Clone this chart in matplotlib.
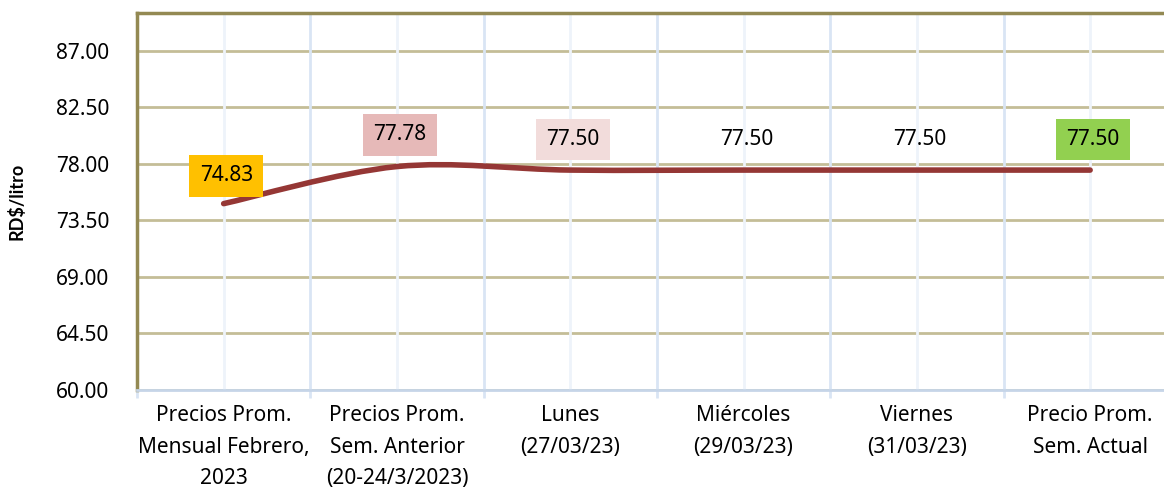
import numpy as np
import matplotlib
matplotlib.use("Agg")
import matplotlib.pyplot as plt
from matplotlib.path import Path
from matplotlib.patches import PathPatch

plt.rcParams['font.family'] = ['Noto Sans', 'DejaVu Sans']

# datos
categorias = ["Precios Prom.\nMensual Febrero,\n2023",
              "Precios Prom.\nSem. Anterior\n(20-24/3/2023)",
              "Lunes\n(27/03/23)",
              "Miércoles\n(29/03/23)",
              "Viernes\n(31/03/23)",
              "Precio Prom.\nSem. Actual"]
precios = [74.83, 77.78, 77.50, 77.50, 77.50, 77.50]
yticks = [60.00, 64.50, 69.00, 73.50, 78.00, 82.50, 87.00]

# colores de las etiquetas (None = sin fondo)
colores_etiqueta = ['#FFC000', '#E6B9B8', '#F2DCDB', None, None, '#92D050']

fig = plt.figure(figsize=(11.64, 4.91), dpi=100)
ax = fig.add_axes([137/1164, 1-390/491, 1-137/1164, (390-13)/491])

n = len(precios)
x = np.arange(n)

# rejilla
for yv in yticks:
    ax.axhline(yv, color='#c4bd97', lw=2, zorder=1)
for xv in x:
    ax.axvline(xv, color='#eef3fa', lw=2, zorder=1)
for xv in np.arange(n) + 0.5:
    ax.axvline(xv, color='#d9e5f4', lw=2, zorder=1)

# curva suavizada (estilo Excel, bezier por Catmull-Rom)
pts = np.column_stack([x, precios])
ext = np.vstack([pts[0], pts, pts[-1]])
verts = [tuple(pts[0])]
codes = [Path.MOVETO]
for i in range(n-1):
    p0, p1, p2, p3 = ext[i], ext[i+1], ext[i+2], ext[i+3]
    c1 = p1 + (p2 - p0) / 6
    c2 = p2 - (p3 - p1) / 6
    verts += [tuple(c1), tuple(c2), tuple(p2)]
    codes += [Path.CURVE4] * 3
curva = PathPatch(Path(verts, codes), facecolor='none', edgecolor='#953735',
                  lw=4, capstyle='round', joinstyle='round', zorder=3)
ax.add_patch(curva)

# etiquetas
offsets = [20, 23, 22, 22, 22, 22]
for xi, v, c, off in zip(x, precios, colores_etiqueta, offsets):
    kw = {}
    if c is not None:
        kw['bbox'] = dict(boxstyle='square,pad=0.5', fc=c, ec='none')
    ax.annotate(f"{v:.2f}", (xi, v), xytext=(2, off), textcoords='offset points',
                ha='center', va='center', fontsize=15, color='black', zorder=4, **kw)

# ejes
ax.set_yticks(yticks)
ax.set_yticklabels([f"{t:.2f}" for t in yticks], fontsize=15)
ax.set_xticks(x)
ax.set_xticklabels(categorias, fontsize=15, linespacing=1.65)
ax.set_xticks(np.arange(n) - 0.5, minor=True)
ax.tick_params(axis='y', length=0, pad=20)
ax.tick_params(axis='x', which='major', length=0, pad=11)
ax.tick_params(axis='x', which='minor', length=6, width=2, color='#d9e5f4', direction='out')
ax.set_xlim(-0.5, (1164-137)/173.3 - 0.5)
ax.set_ylim(60, 90)

for s in ['left', 'top']:
    ax.spines[s].set_color('#938953')
    ax.spines[s].set_linewidth(2.5)
ax.spines['right'].set_visible(False)
ax.spines['bottom'].set_color('#c6d5e8')
ax.spines['bottom'].set_linewidth(2)

ax.set_ylabel("RD$/litro", fontsize=13, fontweight='bold', family=['Lato', 'DejaVu Sans'], labelpad=22)

fig.savefig("out.png", dpi=100)
